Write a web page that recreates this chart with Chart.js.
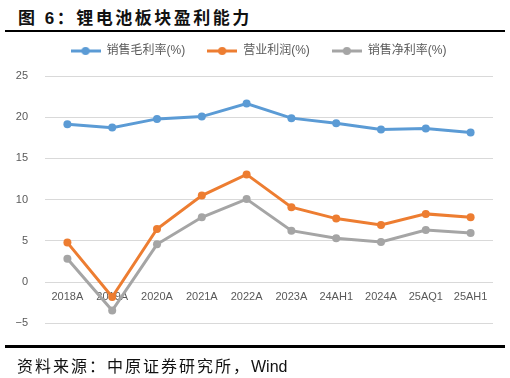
<!DOCTYPE html>
<html><head><meta charset="utf-8">
<script src="https://cdn.jsdelivr.net/npm/chart.js@4.4.1/dist/chart.umd.min.js"></script>
<style>
html,body{margin:0;padding:0;background:#fff;width:510px;height:378px;overflow:hidden;}
#title{position:absolute;left:18px;top:4px;font:bold 17px "Liberation Sans","Noto Sans CJK SC",sans-serif;color:#111;letter-spacing:2.5px;white-space:nowrap;}
#line1{position:absolute;left:5px;top:30px;width:500px;height:2px;background:#000;}
#line2{position:absolute;left:5px;top:345px;width:500px;height:3px;background:#000;}
#src{position:absolute;left:17px;top:353px;font:16px "Liberation Sans","Noto Sans CJK SC",sans-serif;color:#111;letter-spacing:2px;white-space:nowrap;}
#src span{letter-spacing:0;}
#wrap{position:absolute;left:0;top:23px;width:510px;height:324px;}
</style></head><body>
<div id="title">图 6：锂电池板块盈利能力</div>
<div id="line1"></div>
<div id="wrap"><canvas id="c"></canvas></div>
<div id="line2"></div>
<div id="src">资料来源：中原证券研究所，<span>Wind</span></div>
<script>
const categories = ['2018A','2019A','2020A','2021A','2022A','2023A','24AH1','2024A','25AQ1','25AH1'];
const grossMargin = [19.16,18.74,19.80,20.08,21.67,19.89,19.28,18.50,18.62,18.14];
const operatingProfit = [4.80,-1.80,6.45,10.50,13.07,9.09,7.71,6.94,8.28,7.87];
const netMargin = [2.85,-3.44,4.59,7.87,10.07,6.25,5.32,4.87,6.33,5.96];
const seriesNames = ['销售毛利率(%)','营业利润(%)','销售净利率(%)'];
const yTicks = [-5,0,5,10,15,20,25];

const colors = ['#5B9BD5','#ED7D31','#A5A5A5'];
function legendIcon(color){
  const cv = document.createElement('canvas');
  cv.width = 30; cv.height = 10;
  const g = cv.getContext('2d');
  g.strokeStyle = color; g.lineWidth = 3;
  g.beginPath(); g.moveTo(0,5); g.lineTo(30,5); g.stroke();
  g.fillStyle = color; g.beginPath(); g.arc(15,5,4,0,Math.PI*2); g.fill();
  return cv;
}
const icons = colors.map(legendIcon);
const seriesData = [grossMargin, operatingProfit, netMargin];
const datasets = seriesNames.map((n,i)=>({
  label:n, data:seriesData[i], borderColor:colors[i], backgroundColor:colors[i],
  borderWidth:3, pointRadius:4, pointHoverRadius:4, pointBorderWidth:0,
  pointStyle:'circle', tension:0, order:i
}));
const legendTweak = {
  id:'legendTweak',
  beforeInit(chart){
    const fit = chart.legend.fit;
    chart.legend.fit = function(){ fit.call(this); this.height += 9; };
  },
  afterLayout(chart){
    chart.legend.left += 12; chart.legend.right += 12;
  }
};
new Chart(document.getElementById('c'),{
  type:'line',
  data:{labels:categories, datasets},
  plugins:[legendTweak],
  options:{
    responsive:true, maintainAspectRatio:false, animation:false,
    layout:{padding:{left:0,right:17,top:0,bottom:6}},
    plugins:{
      tooltip:{enabled:false},
      legend:{
        display:true, position:'top',
        labels:{
          usePointStyle:true, pointStyleWidth:30, padding:22,
          color:'#595959', font:{size:12, family:'"Liberation Sans","Noto Sans CJK SC",sans-serif'},
          generateLabels:(chart)=>chart.data.datasets.map((d,i)=>({
            text:d.label, pointStyle:icons[i], fillStyle:colors[i], strokeStyle:colors[i],
            fontColor:'#595959', lineWidth:0, datasetIndex:i, hidden:false
          }))
        }
      }
    },
    scales:{
      x:{
        position:{y:0}, z:1, offset:true,
        grid:{display:false, drawTicks:false, offset:true},
        border:{display:false},
        ticks:{color:'#595959', padding:8, maxRotation:0, autoSkip:false,
          font:{size:11, family:'"Liberation Sans",Arial,sans-serif'}}
      },
      y:{
        min:-5, max:25,
        afterBuildTicks:(s)=>{ s.ticks = yTicks.map(v=>({value:v})); },
        afterFit:(s)=>{ s.width = 45; },
        grid:{color:'#D9D9D9', lineWidth:1, drawTicks:false},
        border:{display:false},
        ticks:{color:'#595959', padding:17,
          font:{size:11, family:'"Liberation Sans",Arial,sans-serif'},
          callback:(v)=> v<0 ? '\u2212'+Math.abs(v) : String(v)}
      }
    }
  }
});
</script>
</body></html>
